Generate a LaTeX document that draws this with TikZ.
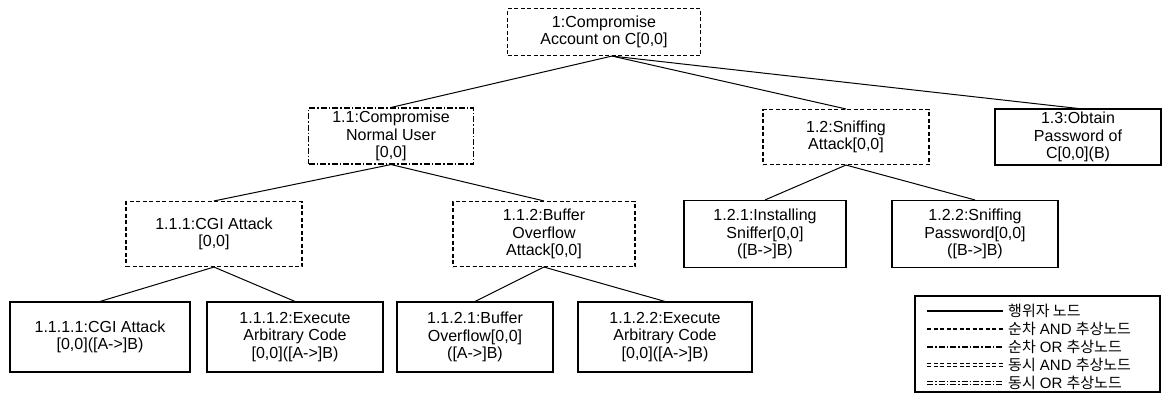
\documentclass[tikz,border=0pt]{standalone}
\usepackage{fontspec}
\setmainfont{Liberation Sans}
\newfontfamily\kr{Noto Sans CJK KR}

\begin{document}
\begin{tikzpicture}[
  x=1pt, y=-1pt,
  font=\fontsize{16}{17.5}\selectfont,
  every node/.style={
    align=center,
    inner sep=0pt,
  },
  actor/.style={draw, line width=1.1pt},
  seqand/.style={draw, line width=1.1pt, dash pattern=on 4pt off 2.5pt},
  seqor/.style={draw, line width=1.1pt, dash pattern=on 6pt off 2pt on 1.5pt off 2pt},
  parand/.style={draw, double, double distance=2.4pt, line width=0.9pt, dash pattern=on 4pt off 2.5pt},
  paror/.style={draw, double, double distance=2.4pt, line width=0.9pt, dash pattern=on 6pt off 2pt on 1.5pt off 2pt},
  box/.style 2 args={minimum width=#1, minimum height=#2},
  edge/.style={draw, line width=1pt},
  ]
  \useasboundingbox (0,0) rectangle (1167,394);

  % root and first level
  \node[seqand, box={193pt}{47pt}] (n1) at (604,32) {1:Compromise\\Account on C[0,0]};
  \node[seqor, box={165pt}{56pt}] (n11) at (391,136) {1.1:Compromise\\Normal User\\{[0,0]}};
  \node[seqand, box={166pt}{55pt}] (n12) at (846,137) {1.2:Sniffing\\Attack[0,0]};
  \node[actor, box={166pt}{56pt}] (n13) at (1078,137) {1.3:Obtain\\Password of\\C[0,0](B)};

  % second level
  \node[seqand, box={176pt}{65pt}] (n111) at (214,234) {1.1.1:CGI Attack\\{[0,0]}};
  \node[seqand, box={182pt}{65pt}] (n112) at (544,234) {1.1.2:Buffer\\Overflow\\Attack[0,0]};
  \node[actor, box={162pt}{67pt}] (n121) at (765,234) {1.2.1:Installing\\Sniffer[0,0]\\([B->]B)};
  \node[actor, box={166pt}{67pt}] (n122) at (975,234) {1.2.2:Sniffing\\Password[0,0]\\([B->]B)};

  % leaves
  \node[actor, box={180pt}{70pt}] (n1111) at (100,337) {1.1.1.1:CGI Attack\\{[0,0]([A->]B)}};
  \node[actor, box={176pt}{70pt}] (n1112) at (295,337) {1.1.1.2:Execute\\Arbitrary Code\\{[0,0]([A->]B)}};
  \node[actor, box={156pt}{70pt}] (n1121) at (475,337) {1.1.2.1:Buffer\\Overflow[0,0]\\([A->]B)};
  \node[actor, box={174pt}{70pt}] (n1122) at (665,337) {1.1.2.2:Execute\\Arbitrary Code\\{[0,0]([A->]B)}};

  \draw[edge] ([xshift=8pt]n1.south) -- (n11.north);
  \draw[edge] ([xshift=8pt]n1.south) -- (n12.north);
  \draw[edge] ([xshift=8pt]n1.south) -- (n13.north);
  \draw[edge] (n11.south) -- (n111.north);
  \draw[edge] (n11.south) -- (n112.north);
  \draw[edge] (n12.south) -- (n121.north);
  \draw[edge] (n12.south) -- (n122.north);
  \draw[edge] (n111.south) -- (n1111.north);
  \draw[edge] (n111.south) -- (n1112.north);
  \draw[edge] (n112.south) -- (n1121.north);
  \draw[edge] (n112.south) -- (n1122.north);

  % legend
  \node[actor, box={245pt}{96pt}] (legend) at (1037.5,344) {};
  \foreach \y/\st/\txt in {
      311/actor/{{\kr 행위자 노드}},
      329/seqand/{{\kr 순차} AND {\kr 추상노드}},
      347/seqor/{{\kr 순차} OR {\kr 추상노드}},
      365/parand/{{\kr 동시} AND {\kr 추상노드}},
      383/paror/{{\kr 동시} OR {\kr 추상노드}}} {
    \draw[\st] (927,\y) -- (1003,\y);
    \node[anchor=west, font=\fontsize{15}{17}\selectfont] at (1008,\y) {\txt};
  }
\end{tikzpicture}
\end{document}
